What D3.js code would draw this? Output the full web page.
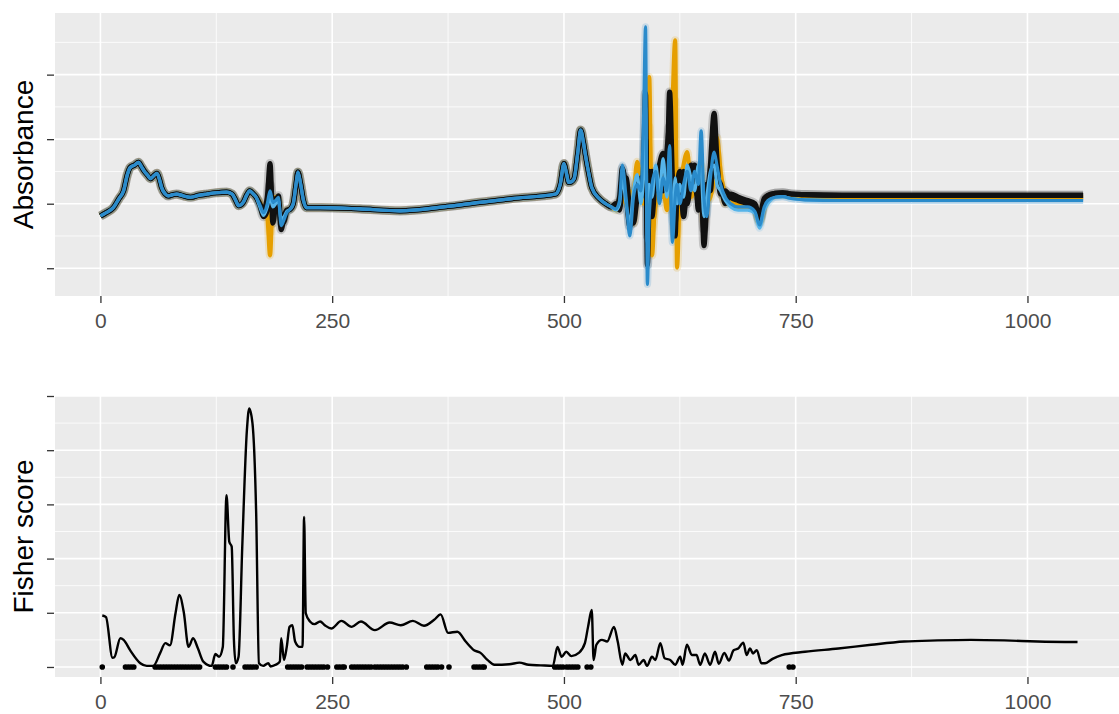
<!DOCTYPE html>
<html><head><meta charset="utf-8">
<script src="https://cdn.jsdelivr.net/npm/d3@7"></script>
<style>body{margin:0;background:#fff}svg{display:block}</style>
</head><body>
<svg id="c" width="1119" height="714"></svg>
<script>
// ---------- DATA ----------
const xTicks = [0, 250, 500, 750, 1000];
const xMinor = [125, 375, 625, 875];
const absTicks = [-1, 0, 1, 2];
const absMinor = [-0.5, 0.5, 1.5, 2.5];
const fisherTicks = [0, 1, 2, 3, 4, 5];
const fisherMinor = [0.5, 1.5, 2.5, 3.5, 4.5];

// shared absorbance profile (all samples nearly identical here)
const baseIdx = [0, 6, 14, 20, 25, 29, 32, 37, 41, 44, 47, 51, 54, 58, 61, 64, 66, 70, 73, 78, 82, 90, 97, 106, 115, 125, 136, 142, 146, 149, 154, 158, 161, 165, 168,
  205, 208, 211, 213, 216, 219, 222, 237, 280, 323, 370, 409, 444, 491, 496, 500, 503, 505, 508, 511, 515, 518, 521, 523, 527, 530, 538, 545, 551];
const baseAbs = [-0.19, -0.14, -0.06, 0.08, 0.2, 0.45, 0.56, 0.6, 0.64, 0.58, 0.51, 0.44, 0.39, 0.44, 0.47, 0.36, 0.25, 0.15, 0.12, 0.14, 0.15, 0.12, 0.1, 0.13, 0.15, 0.17, 0.18, 0.15, 0.05, -0.03, 0.02, 0.14, 0.2, 0.15, 0.1,
  -0.08, 0.0, 0.3, 0.49, 0.3, 0.05, -0.06, -0.06, -0.08, -0.11, -0.05, 0.02, 0.08, 0.15, 0.3, 0.62, 0.45, 0.33, 0.34, 0.39, 0.8, 1.14, 0.95, 0.77, 0.45, 0.25, 0.08, 0.0, -0.05];

// sample-specific region A
const segAIdx = [172, 176, 180, 183, 186, 189, 192, 195, 198, 201];
const orange1SegA = [0.02, -0.1, -0.2, -0.8, 0.1, 0.1, 0.05, -0.25, -0.2, -0.1];
const orange2SegA = [0.0, -0.15, -0.1, -0.45, -0.05, 0.05, 0.08, -0.3, -0.25, -0.12];
const black1SegA  = [0.0, -0.1, 0.1, 0.62, -0.3, 0.0, 0.12, -0.4, -0.2, -0.1];
const black2SegA  = [-0.03, -0.2, -0.1, 0.3, -0.15, 0.08, 0.0, -0.3, -0.28, -0.12];
const blue1SegA   = [-0.02, -0.14, 0.0, 0.2, 0.02, 0.05, 0.1, -0.34, -0.25, -0.14];
const blue2SegA   = [-0.05, -0.18, -0.05, 0.1, -0.05, 0.0, 0.05, -0.25, -0.2, -0.12];

// sample-specific region B (strong variation)
const chaosIdx = [556, 560, 563, 567, 571, 575, 579, 583, 586, 588, 590, 592, 595, 599, 603, 607, 611, 614, 617, 620, 622, 625, 629, 633, 637, 641, 645, 648, 651, 654, 658, 662, 665, 669, 674, 680, 688, 698, 706, 711, 716, 720];
const orange1Chaos = [-0.05, 0.05, 0.2, 0.3, -0.2, 0.1, 0.65, 0.3, 0.0, 0.8, 1.2, 1.96, -0.8, 0.3, 0.5, 0.1, 0.5, 0.3, 1.5, 2.53, -0.99, 0.2, 0.6, 0.8, 0.3, 0.5, 0.2, 0.6, 0.0, 0.2, 0.3, 0.7, 1.03, 0.5, 0.15, 0.05, 0.0, 0.0, -0.05, -0.28, 0.0, 0.08];
const orange2Chaos = [-0.1, 0.0, 0.1, 0.0, 0.2, -0.3, 0.3, 0.5, 0.1, 0.3, 0.9, 1.2, -0.4, 0.0, 0.4, 0.3, -0.1, 0.5, 0.9, 1.6, -0.5, 0.4, 0.2, 0.4, 0.1, 0.2, 0.4, 0.3, -0.3, 0.0, 0.1, 0.4, 0.8, 0.3, 0.0, 0.0, -0.05, -0.05, -0.1, -0.3, -0.05, 0.06];
const black1Chaos  = [-0.05, 0.1, 0.55, 0.2, -0.35, -0.1, 0.35, 0.1, 0.6, 1.71, -0.95, 0.1, 0.5, 0.2, 0.6, 0.78, 0.3, 1.73, 0.4, -0.3, 0.2, 0.5, -0.2, 0.35, 0.6, 0.3, 0.1, 0.4, -0.65, 0.0, 0.6, 1.4, 0.7, 0.15, 0.2, 0.1, 0.05, 0.0, -0.05, -0.25, 0.05, 0.12];
const black2Chaos  = [0.0, -0.1, 0.3, 0.4, -0.1, -0.3, 0.1, 0.4, 0.2, 1.0, -0.5, 0.5, -0.2, 0.4, 0.3, 0.2, 0.8, 1.2, 0.0, -0.5, 0.3, 0.1, 0.5, 0.0, 0.4, 0.6, -0.1, 0.2, -0.4, 0.3, 0.2, 1.0, 0.4, 0.3, 0.0, 0.15, 0.1, 0.05, 0.0, -0.2, 0.08, 0.13];
const blue1Chaos   = [-0.08, 0.05, 0.6, 0.1, -0.5, 0.1, 0.3, 0.2, 1.4, 2.74, -1.25, -0.2, 0.3, 0.5, 0.0, 0.4, 0.2, 0.9, -0.6, 0.1, 0.3, 0.0, 0.3, 0.5, 0.2, 0.5, 0.3, 1.13, 0.1, -0.2, 0.4, 0.8, 0.6, 0.3, 0.1, 0.0, -0.05, -0.05, -0.12, -0.33, -0.05, 0.05];
const blue2Chaos   = [-0.1, 0.0, 0.4, 0.0, -0.3, 0.2, 0.45, 0.0, 0.5, 1.5, -0.6, 0.3, 0.1, 0.6, 0.2, 0.7, 0.1, 0.6, -0.3, 0.4, 0.0, 0.3, 0.1, 0.6, 0.4, 0.2, 0.6, 0.5, -0.2, 0.1, 0.5, 0.6, 0.3, 0.2, 0.05, -0.05, -0.1, -0.1, -0.15, -0.38, -0.1, 0.0];

// tail per group
const tailIdx = [728, 736, 745, 760, 800, 900, 1000, 1060];
const orangeTail = [0.13, 0.14, 0.12, 0.11, 0.1, 0.1, 0.1, 0.1];
const blackTail  = [0.16, 0.17, 0.15, 0.14, 0.13, 0.13, 0.13, 0.13];
const blueTail   = [0.1, 0.11, 0.08, 0.06, 0.05, 0.05, 0.05, 0.05];

// Fisher score
const fisherIdx = [2, 6, 13, 15, 21.5, 25, 32, 43, 50, 57, 64.5, 70, 75, 81, 85, 90, 95, 100, 105, 111, 120, 124, 128, 132, 136, 139, 141.6, 144, 146, 149, 153, 158, 160.5, 164, 168, 171, 175.6, 181, 183.5, 189, 193.5, 195, 198, 201, 204, 207, 210, 215, 218, 219.7, 221.5, 226, 231, 237, 242, 249, 260, 271, 281, 296, 312, 324, 337, 349, 360, 367, 375, 385, 394, 403, 410, 417.5, 425, 441, 452, 462, 475, 488, 493, 497.5, 502.5, 508, 516, 522.6, 526, 530, 532, 535, 541, 546.6, 554, 558, 563, 566, 571.7, 577, 580.6, 586, 589.6, 595, 598.6, 604, 608.6, 614.7, 620, 625.4, 628, 632.6, 638, 643, 647, 652, 657.7, 663, 667, 673, 678, 683, 688, 693.5, 697, 700.7, 704, 708, 713, 717, 725, 735, 760, 796, 831.5, 867, 903, 939, 975, 1011, 1054];
const fisherScore = [0.95, 0.92, 0.17, 0.18, 0.53, 0.5, 0.31, 0.07, 0.02, 0.02, 0.26, 0.44, 0.4, 0.99, 1.33, 1.0, 0.37, 0.53, 0.35, 0.1, 0.02, 0.24, 0.19, 0.37, 3.17, 2.31, 2.22, 0.5, 0.07, 0.19, 2.22, 4.37, 4.77, 4.5, 2.84, 0.07, 0.02, 0.07, 0.01, 0.04, 0.1, 0.53, 0.13, 0.37, 0.74, 0.77, 0.47, 0.37, 0.37, 2.77, 0.99, 0.84, 0.79, 0.84, 0.77, 0.71, 0.85, 0.74, 0.84, 0.68, 0.82, 0.77, 0.85, 0.76, 0.87, 0.97, 0.63, 0.65, 0.47, 0.31, 0.26, 0.13, 0.04, 0.05, 0.08, 0.04, 0.03, 0.02, 0.37, 0.19, 0.28, 0.2, 0.26, 0.44, 0.74, 1.05, 0.13, 0.41, 0.5, 0.47, 0.74, 0.47, 0.04, 0.25, 0.13, 0.22, 0.04, 0.13, 0.02, 0.19, 0.13, 0.44, 0.16, 0.13, 0.04, 0.19, 0.04, 0.41, 0.22, 0.22, 0.04, 0.25, 0.04, 0.28, 0.06, 0.26, 0.12, 0.31, 0.34, 0.45, 0.22, 0.34, 0.25, 0.31, 0.07, 0.07, 0.15, 0.22, 0.28, 0.34, 0.41, 0.47, 0.49, 0.5, 0.49, 0.47, 0.46];

// selected variables (dots on the baseline)
const selectedIdx = [2, 27, 30, 33, 36,
  59, 62, 65, 68, 71, 74, 77, 80, 83, 86, 89, 92, 95, 98, 101, 104, 107,
  124, 127, 130, 133, 136, 143, 156, 159, 162, 165, 168,
  202, 205, 208, 211, 214, 217, 223, 226, 229, 232, 235, 238, 241, 245,
  255, 258, 261, 263, 271, 274, 277, 280, 283, 286, 289, 292, 296, 299, 302, 305, 308, 311, 314, 317, 320, 323, 326, 330,
  352, 355, 358, 361, 364, 368, 376, 403, 406, 409, 412, 414,
  490, 493, 496, 499, 503, 506, 509, 512, 515, 525, 529, 743, 747];

// ---------- LAYOUT ----------
const svg = d3.select("#c");
const x = d3.scaleLinear().domain([-49, 1116]).range([55, 1135]);
const yTop = d3.scaleLinear().domain([-1.43, 2.955]).range([296, 13]);
const yBot = d3.scaleLinear().domain([-0.185, 5.0]).range([677, 396]);
const FONT = "'Liberation Sans', Arial, Helvetica, sans-serif";

function panel(id, y, majors, minors) {
  const [b, t] = y.range();
  const g = svg.append("g");
  g.append("rect").attr("x", 55).attr("y", t).attr("width", 1135 - 55).attr("height", b - t).attr("fill", "#EBEBEB");
  g.selectAll(".hmin").data(minors).join("line").attr("class", "hmin")
    .attr("x1", 55).attr("x2", 1135).attr("y1", d => y(d)).attr("y2", d => y(d))
    .attr("stroke", "#fff").attr("stroke-width", 0.8);
  g.selectAll(".vmin").data(xMinor).join("line").attr("class", "vmin")
    .attr("x1", d => x(d)).attr("x2", d => x(d)).attr("y1", t).attr("y2", b)
    .attr("stroke", "#fff").attr("stroke-width", 0.8);
  g.selectAll(".hmaj").data(majors).join("line").attr("class", "hmaj")
    .attr("x1", 55).attr("x2", 1135).attr("y1", d => y(d)).attr("y2", d => y(d))
    .attr("stroke", "#fff").attr("stroke-width", 1.6);
  g.selectAll(".vmaj").data(xTicks).join("line").attr("class", "vmaj")
    .attr("x1", d => x(d)).attr("x2", d => x(d)).attr("y1", t).attr("y2", b)
    .attr("stroke", "#fff").attr("stroke-width", 1.6);
  svg.append("clipPath").attr("id", id).append("rect")
    .attr("x", 55).attr("y", t).attr("width", 1135 - 55).attr("height", b - t);
  const ax = svg.append("g").attr("transform", `translate(0,${b})`)
    .call(d3.axisBottom(x).tickValues(xTicks).tickFormat(d3.format("d")).tickSize(7).tickPadding(10));
  const ay = svg.append("g").attr("transform", `translate(54,0)`)
    .call(d3.axisLeft(y).tickValues(majors).tickFormat("").tickSize(7));
  [ax, ay].forEach(a => {
    a.select(".domain").remove();
    a.selectAll(".tick line").attr("stroke", "#333").attr("stroke-width", 1.3);
    a.selectAll(".tick text").attr("fill", "#4D4D4D").style("font-family", FONT).style("font-size", "21px");
  });
  return g;
}

panel("clipTop", yTop, absTicks, absMinor);
panel("clipBot", yBot, fisherTicks, fisherMinor);

// ---------- SPECTRA ----------
const samples = [
  { color: "#E69F00", width: 4.2, segA: orange1SegA, chaos: orange1Chaos, tail: orangeTail },
  { color: "#E69F00", width: 4.2, segA: orange2SegA, chaos: orange2Chaos, tail: orangeTail },
  { color: "#111111", width: 5.2, segA: black1SegA, chaos: black1Chaos, tail: blackTail },
  { color: "#111111", width: 5.2, segA: black2SegA, chaos: black2Chaos, tail: blackTail },
  { color: "#56B4E9", width: 3.2, segA: blue2SegA, chaos: blue2Chaos, tail: blueTail },
  { color: "#2A8BCB", width: 3.2, segA: blue1SegA, chaos: blue1Chaos, tail: blueTail }
];
function buildSeries(s) {
  const pts = baseIdx.map((v, i) => [v, baseAbs[i]])
    .concat(segAIdx.map((v, i) => [v, s.segA[i]]))
    .concat(chaosIdx.map((v, i) => [v, s.chaos[i]]))
    .concat(tailIdx.map((v, i) => [v, s.tail[i]]));
  return pts.sort((a, b) => a[0] - b[0]);
}
const specLine = d3.line().x(d => x(d[0])).y(d => yTop(d[1])).curve(d3.curveMonotoneX);
const gSpec = svg.append("g").attr("clip-path", "url(#clipTop)");
// soft halo
gSpec.selectAll("path.halo").data(samples).join("path").attr("class", "halo")
  .attr("d", s => specLine(buildSeries(s)))
  .attr("fill", "none").attr("stroke", s => s.color).attr("stroke-opacity", 0.18)
  .attr("stroke-width", s => s.width + 4).attr("stroke-linejoin", "round");
gSpec.selectAll("path.spec").data(samples).join("path").attr("class", "spec")
  .attr("d", s => specLine(buildSeries(s)))
  .attr("fill", "none").attr("stroke", s => s.color).attr("stroke-width", s => s.width)
  .attr("stroke-linejoin", "round");

// ---------- FISHER ----------
const fLine = d3.line().x(d => x(d[0])).y(d => yBot(d[1])).curve(d3.curveMonotoneX);
const gF = svg.append("g").attr("clip-path", "url(#clipBot)");
gF.append("path").attr("d", fLine(fisherIdx.map((v, i) => [v, fisherScore[i]])))
  .attr("fill", "none").attr("stroke", "#000").attr("stroke-width", 2.4).attr("stroke-linejoin", "round");
gF.selectAll("circle").data(selectedIdx).join("circle")
  .attr("cx", d => x(d)).attr("cy", yBot(0)).attr("r", 2.8).attr("fill", "#000");

// ---------- AXIS TITLES ----------
svg.append("text").attr("transform", `translate(33,${(296 + 13) / 2}) rotate(-90)`)
  .attr("text-anchor", "middle").style("font-family", FONT).style("font-size", "28px").attr("fill", "#000")
  .text("Absorbance");
svg.append("text").attr("transform", `translate(33,${(677 + 396) / 2}) rotate(-90)`)
  .attr("text-anchor", "middle").style("font-family", FONT).style("font-size", "28px").attr("fill", "#000")
  .text("Fisher score");
</script>
</body></html>
